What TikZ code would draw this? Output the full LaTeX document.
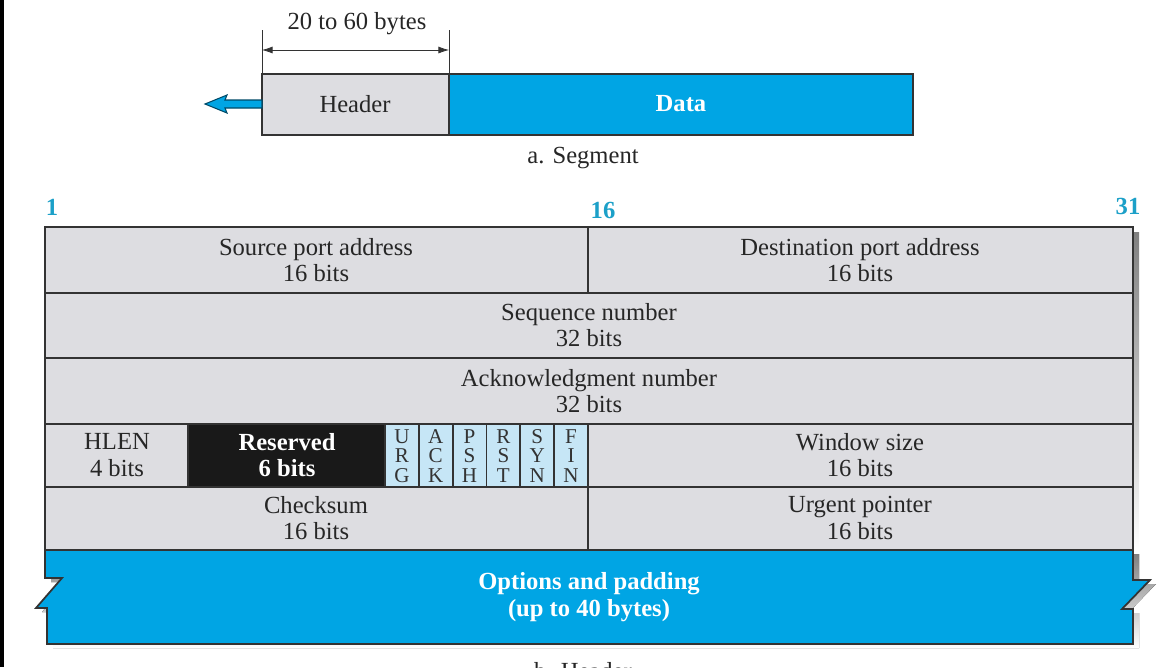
\documentclass[tikz,border=0pt]{standalone}
\usepackage{fontspec}
\setmainfont{Liberation Serif}
\usetikzlibrary{calc, shapes, arrows.meta}

\definecolor{cellgray}{RGB}{221,221,225}
\definecolor{segblue}{RGB}{0,165,228}
\definecolor{flagblue}{RGB}{198,230,246}
\definecolor{numcyan}{RGB}{28,160,200}
\definecolor{shade}{RGB}{65,65,72}

\begin{document}
\begin{tikzpicture}[x=0.02cm, y=-0.02cm,
  txt/.style={font=\fontsize{14}{15}\selectfont, align=center, text=black!85, inner sep=0pt},
  btxt/.style={txt, font=\fontsize{14}{15}\selectfont\bfseries, text=white},
  num/.style={font=\fontsize{14}{15}\selectfont\bfseries, text=numcyan, inner sep=0pt},
  cell/.style={draw=black!80, line width=1pt},
  flag/.style={font=\fontsize{12}{11.2}\selectfont, align=center, text=black!80, inner sep=0pt}]
  \useasboundingbox (0,0) rectangle (1160,667);
  \fill[black] (0,0) rectangle (4,667);

  \draw[cell, fill=cellgray] (262,74) rectangle (449,135);
  \draw[cell, fill=segblue] (449,74) rectangle (913,135);
  \node[txt]  (hdr)  at (355,104) {Header};
  \node[btxt] (data) at (681,104) {Data};
  \node[txt]  (seg)  at (583,158) {a. Segment};

  \draw[black!80] (262,30) -- (262,74);
  \draw[black!80] (449,30) -- (449,74);
  \coordinate (dimL) at (262,50);
  \coordinate (dimR) at (449,50);
  \draw[black!80, {Latex[length=6pt,width=4pt]}-{Latex[length=6pt,width=4pt]}] (dimL) -- (dimR);
  \node[txt] (len) at (357,24) {20 to 60 bytes};

  \coordinate (segW) at (262,104);
  \draw[fill=segblue, draw=segblue!45!black, line width=0.6pt]
    (segW) -- ++(0,-4) -- (225,100) -- (227,95) -- (205,104) -- (227,113) -- (225,108) -- ++(37,0) -- cycle;

  \node[num] (b1)  at (52,207)   {1};
  \node[num] (b16) at (603,210)  {16};
  \node[num] (b31) at (1128,206) {31};

  \fill[shade] (1133,232) rectangle (1139,550);
  \draw[cell, fill=cellgray] (45,227) rectangle (1133,550);
  \fill[black!90] (188,424) rectangle (385,487);
  \fill[flagblue] (385,424) rectangle (588,487);
  \foreach \y in {293,358,424,487} \draw[cell] (45,\y) -- (1133,\y);
  \draw[cell] (588,227) -- (588,293);
  \draw[cell] (588,424) -- (588,550);
  \draw[cell] (188,424) -- (188,487);
  \foreach \i in {0,...,5} \draw[cell] ({385+33.83*\i},424) -- ({385+33.83*\i},487);

  \node[txt] (src) at (316,260) {Source port address\\16 bits};
  \node[txt] (dst) at (860,260) {Destination port address\\16 bits};
  \node[txt] (seq) at (589,325) {Sequence number\\32 bits};
  \node[txt] (ack) at (589,391) {Acknowledgment number\\32 bits};
  \node[txt] (hlen) at (117,455) {HLEN\\4 bits};
  \node[btxt] (rsv) at (287,455) {Reserved\\6 bits};
  \foreach \a/\b/\c [count=\i from 0] in {U/R/G, A/C/K, P/S/H, R/S/T, S/Y/N, F/I/N}
    \node[flag] (flag\i) at ({385+33.83*(\i+0.5)},456) {\a\\\b\\\c};
  \node[txt] (win) at (860,455) {Window size\\16 bits};
  \node[txt] (chk) at (316,518) {Checksum\\16 bits};
  \node[txt] (urg) at (860,518) {Urgent pointer\\16 bits};

  \begin{scope}[shift={(6,4)}]
    \fill[shade] (45,550) -- (1133,550) -- (1133,580) -- (1150,580) -- (1122,609) -- (1133,609)
      -- (1133,644) -- (47,644) -- (47,608) -- (36,608) -- (62,578) -- (45,578) -- cycle;
  \end{scope}
  \draw[cell, fill=segblue] (45,550) -- (1133,550) -- (1133,580) -- (1150,580) -- (1122,609) -- (1133,609)
    -- (1133,644) -- (47,644) -- (47,608) -- (36,608) -- (62,578) -- (45,578) -- cycle;
  \node[btxt] (opt) at (589,597) {Options and padding\\(up to 40 bytes)};

  \node[txt, anchor=base] (hcap) at (583,679) {b. Header};
\end{tikzpicture}
\end{document}
